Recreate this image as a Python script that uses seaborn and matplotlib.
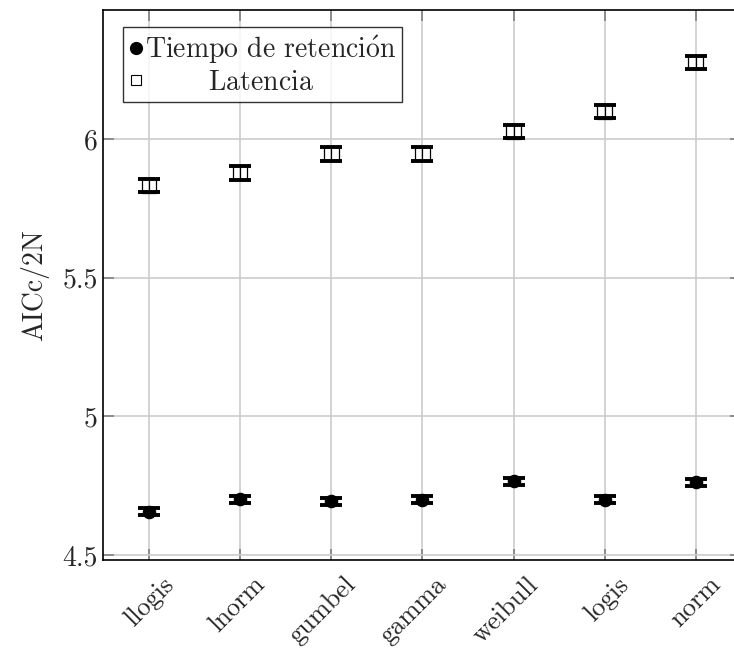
import numpy as np
import pandas as pd
import matplotlib
matplotlib.use('Agg')
import matplotlib.pyplot as plt
import matplotlib.transforms as mtransforms
from matplotlib.lines import Line2D
import seaborn as sns

# distributions on the x axis
distribuciones = ['llogis', 'lnorm', 'gumbel', 'gamma', 'weibull', 'logis', 'norm']

# AICc/2N per series
tiempo = [4.656, 4.701, 4.693, 4.699, 4.766, 4.700, 4.762]
tiempo_err = [0.013, 0.013, 0.013, 0.013, 0.013, 0.013, 0.013]
latencia = [5.834, 5.878, 5.947, 5.947, 6.027, 6.100, 6.278]
latencia_err = [0.024, 0.024, 0.024, 0.024, 0.024, 0.024, 0.024]

etiqueta_t = r'Tiempo de retenci$\acute{\mathrm{o}}$n'
etiqueta_l = r'$\hspace{2.6}$Latencia'

df = pd.DataFrame({
    'dist': distribuciones * 2,
    'aic': tiempo + latencia,
    'err': tiempo_err + latencia_err,
    'serie': ['t'] * 7 + ['l'] * 7,
})

sns.set_style('white')
plt.rcParams['font.family'] = ['cmr10', 'DejaVu Serif']
plt.rcParams['mathtext.fontset'] = 'cm'
plt.rcParams['axes.formatter.use_mathtext'] = True
plt.rcParams['axes.unicode_minus'] = False

fig = plt.figure(figsize=(7.34, 6.5), dpi=100)
ax = fig.add_axes([0.141, 0.1385, 0.869, 0.846])

dt = df[df['serie'] == 't']
dl = df[df['serie'] == 'l']

ax.errorbar(dt['dist'], dt['aic'], yerr=dt['err'], fmt='none', ecolor='black',
            elinewidth=0.9, capsize=8, capthick=2.8, zorder=3)
ax.errorbar(dl['dist'], dl['aic'], yerr=dl['err'], fmt='none', ecolor='black',
            elinewidth=0.9, capsize=8, capthick=2.8, zorder=3)
sns.scatterplot(data=dt, x='dist', y='aic', marker='o', s=80, color='black',
                edgecolor='black', linewidth=0.8, ax=ax, zorder=4, legend=False)
sns.scatterplot(data=dl, x='dist', y='aic', marker='s', s=110, facecolor='none',
                edgecolor='black', linewidth=0.9, ax=ax, zorder=4, legend=False)

ax.set_xlim(-0.5, 6.5)
ax.set_ylim(4.482, 6.466)
ax.set_yticks([4.5, 5, 5.5, 6])
ax.set_yticklabels(['4.5', '5', '5.5', '6'])
ax.set_xlabel('')
ax.set_ylabel('AICc/2N', fontsize=20, labelpad=10)

ax.grid(True, color='#cccccc', linewidth=1.2)
ax.set_axisbelow(True)
ax.tick_params(axis='both', direction='in', length=8, width=1.2, color='#808080',
               labelsize=20)
ax.tick_params(axis='x', top=True, bottom=True, pad=15, labelsize=19)
ax.tick_params(axis='y', left=True, right=True, pad=4)
for s in ax.spines.values():
    s.set_color('black')
    s.set_linewidth(1.2)

offset = mtransforms.ScaledTranslation(15 / 72, 0, fig.dpi_scale_trans)
for lab in ax.get_xticklabels():
    lab.set_rotation(45)
    lab.set_ha('right')
    lab.set_va('center')
    lab.set_rotation_mode('anchor')
    lab.set_transform(lab.get_transform() + offset)

handles = [
    Line2D([], [], linestyle='none', marker='o', markersize=8.5, color='black'),
    Line2D([], [], linestyle='none', marker='s', markersize=7, markerfacecolor='white',
           markeredgecolor='black', markeredgewidth=0.8),
]
leg = ax.legend(handles, [etiqueta_t, etiqueta_l], loc='upper left',
                bbox_to_anchor=(0.031, 0.969), borderaxespad=0.0, fontsize=20,
                frameon=True, fancybox=False, edgecolor='black', handlelength=0.5,
                handletextpad=0.1, borderpad=0.2, labelspacing=0.15,
                handleheight=0.7)
leg.get_frame().set_linewidth(1.0)

fig.savefig('out.png', dpi=100)
